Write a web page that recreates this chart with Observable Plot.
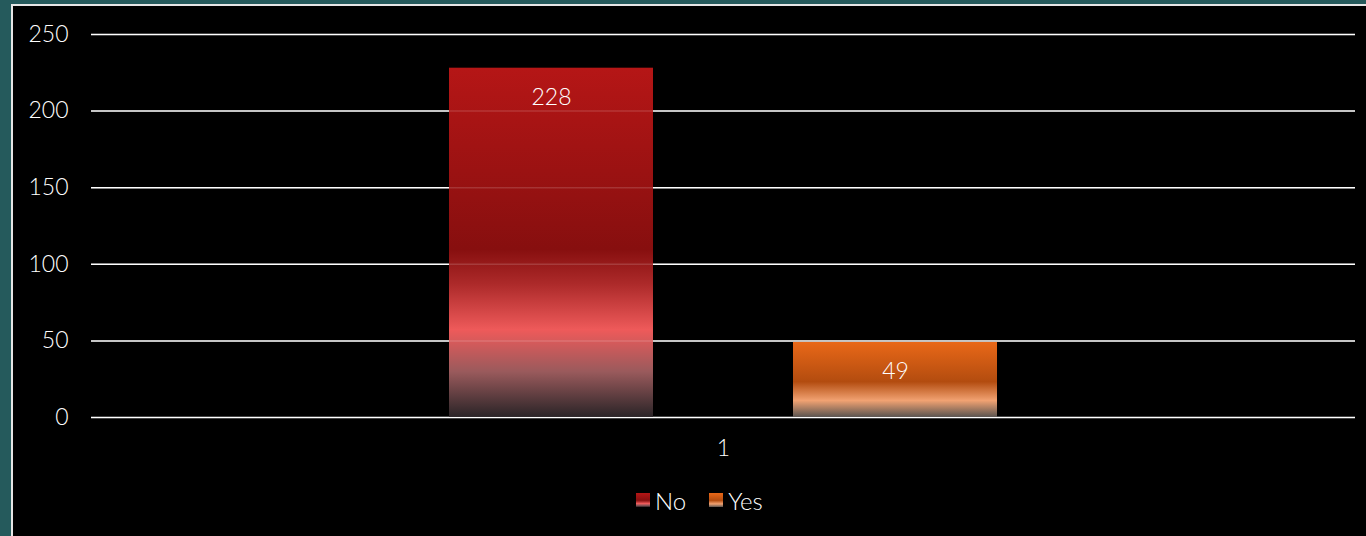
<!DOCTYPE html>
<html>
<head>
<meta charset="utf-8">
<script src="https://cdn.jsdelivr.net/npm/d3@7"></script>
<script src="https://cdn.jsdelivr.net/npm/@observablehq/plot@0.6"></script>
<style>
  html, body { margin: 0; padding: 0; }
  body { width: 1366px; height: 536px; background: #255a5c; overflow: hidden; position: relative; font-family: Lato, "Open Sans", sans-serif; }
  #panel { position: absolute; left: 11px; top: 4px; width: 1353px; height: 530px; background: #000; border-left: 2px solid #e6e6e6; border-top: 2px solid #e6e6e6; }
  #legend { position: absolute; left: 623px; top: 480px; height: 28px; display: flex; align-items: center; color: #ffffff; font-size: 24px; font-weight: 300; }
  .sw { width: 14px; height: 14px; margin-right: 5px; }
  .item { display: flex; align-items: center; margin-right: 23px; }
</style>
</head>
<body>
<div id="panel"><div id="chart"></div><div id="legend"></div></div>
<script>
const categories = ["1"];
const series = ["No", "Yes"];
const values = [228, 49];
const yTicks = [0, 50, 100, 150, 200, 250];

const gradients = {
  No: [[0, "#b51616"], [0.52, "#870f0f"], [0.62, "#ad2a2a"], [0.75, "#ee5a5a"], [0.87, "#9a5a5c"], [1, "#2a2427"]],
  Yes: [[0, "#e96818"], [0.53, "#b34c0f"], [0.78, "#f1a272"], [1, "#5a5450"]]
};
const gradId = {No: "gNo", Yes: "gYes"};

const data = series.map((s, i) => ({cat: categories[0], series: s, value: values[i]}));

const chart = Plot.plot({
  width: 1353,
  height: 460,
  marginLeft: 78,
  marginRight: 11,
  marginTop: 28,
  marginBottom: 49,
  style: {background: "#000", color: "#ffffff", fontFamily: "Lato, 'Open Sans', sans-serif", fontSize: "23px", fontWeight: 300},
  fx: {domain: categories, padding: 0, axis: "bottom", tickSize: 0, tickPadding: 22, label: null},
  x: {domain: series, axis: null, paddingInner: 0.407, paddingOuter: 1.0407},
  y: {domain: [0, 250], ticks: yTicks, label: null, tickSize: 0, tickPadding: 23},
  color: {domain: series, range: series.map(s => `url(#${gradId[s]})`)},
  marks: [
    Plot.gridY(yTicks, {stroke: "#ffffff", strokeOpacity: 1, strokeWidth: 1.5}),
    Plot.barY(data, {fx: "cat", x: "series", y: "value", fill: "series"}),
    Plot.gridY(yTicks, {stroke: "#ffffff", strokeOpacity: 0.15, strokeWidth: 1.5}),
    Plot.text(data, {fx: "cat", x: "series", y: "value", text: d => String(d.value), dy: 29, fill: "#ffffff", fontSize: 23, fontWeight: 300})
  ]
});

const defs = d3.select(chart).insert("defs", ":first-child");
for (const s of series) {
  const g = defs.append("linearGradient").attr("id", gradId[s]).attr("x1", 0).attr("y1", 0).attr("x2", 0).attr("y2", 1);
  for (const [o, c] of gradients[s]) g.append("stop").attr("offset", o).attr("stop-color", c);
}
document.getElementById("chart").appendChild(chart);

const legend = d3.select("#legend");
for (const s of series) {
  const item = legend.append("div").attr("class", "item");
  const stops = gradients[s].map(([o, c]) => `${c} ${o * 100}%`).join(", ");
  item.append("div").attr("class", "sw").style("background", `linear-gradient(to bottom, ${stops})`);
  item.append("span").text(s);
}
</script>
</body>
</html>
